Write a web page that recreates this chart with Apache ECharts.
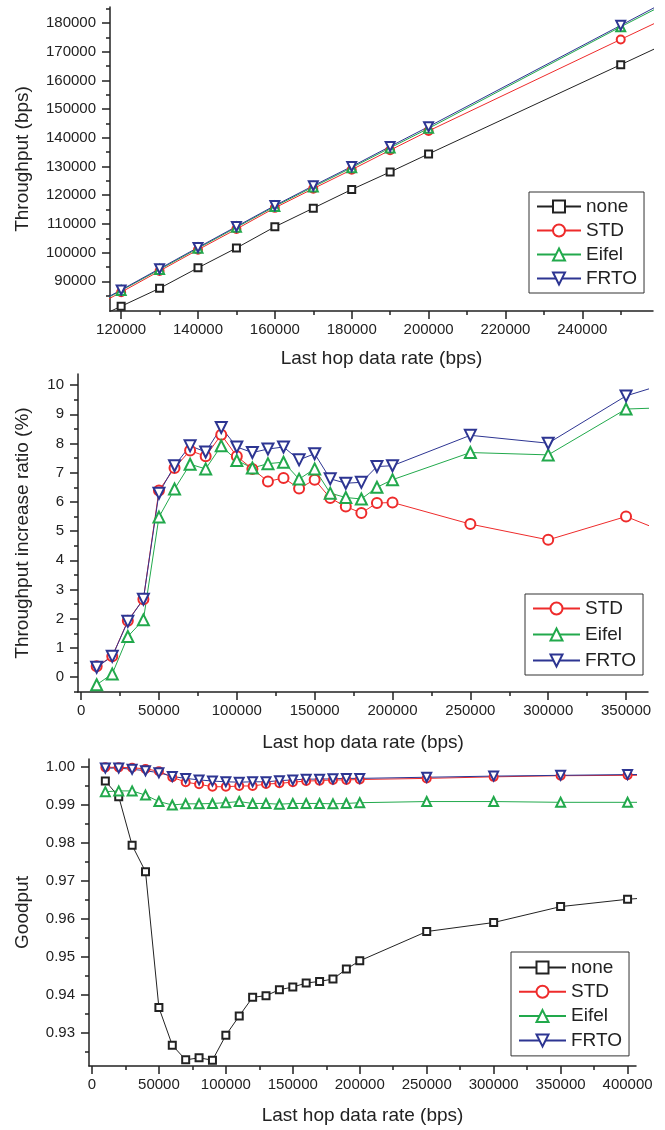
<!DOCTYPE html>
<html>
<head>
<meta charset="utf-8">
<script src="https://cdn.jsdelivr.net/npm/echarts@6/dist/echarts.min.js"></script>
<style>
html,body{margin:0;padding:0;background:#fff;}
#chart{width:665px;height:1130px;}
</style>
</head>
<body>
<div id="chart"></div>
<script>
// ---------- Panel 1: Throughput (bps) ----------
// first and last rates lie just outside the visible axis range (their lines run into the frame edge)
const rate1 = [110000, 120000, 130000, 140000, 150000, 160000, 170000, 180000, 190000, 200000, 250000, 300000];
const none1  = [75000, 81300, 87550, 94700, 101600, 109000, 115500, 122000, 128100, 134400, 165500, 196700];
const std1   = [79000, 86200, 93600, 101000, 108200, 115600, 122300, 128900, 135700, 142400, 174300, 206000];
const eifel1 = [79500, 86800, 94100, 101500, 108800, 116100, 122900, 129600, 136500, 143300, 178700, 213000];
const frto1  = [79700, 87000, 94400, 101800, 109100, 116400, 123300, 130000, 137000, 143900, 179200, 214500];
const xMajor1 = [120000, 140000, 160000, 180000, 200000, 220000, 240000];
const xMinor1 = [130000, 150000, 170000, 190000, 210000, 230000, 250000];
const yMajor1 = [90000, 100000, 110000, 120000, 130000, 140000, 150000, 160000, 170000, 180000];
const yMinor1 = [85000, 95000, 105000, 115000, 125000, 135000, 145000, 155000, 165000, 175000, 185000];

// ---------- Panel 2: Throughput increase ratio (%) ----------
const rate2 = [10000, 20000, 30000, 40000, 50000, 60000, 70000, 80000, 90000, 100000, 110000, 120000, 130000, 140000, 150000, 160000, 170000, 180000, 190000, 200000, 250000, 300000, 350000, 400000];
const std2   = [0.37, 0.71, 1.93, 2.67, 6.39, 7.16, 7.76, 7.56, 8.30, 7.56, 7.13, 6.70, 6.82, 6.46, 6.76, 6.13, 5.84, 5.62, 5.96, 5.98, 5.24, 4.70, 5.50, 4.43];
const eifel2 = [-0.26, 0.11, 1.39, 1.96, 5.48, 6.44, 7.29, 7.13, 7.92, 7.42, 7.16, 7.31, 7.36, 6.78, 7.13, 6.30, 6.15, 6.10, 6.50, 6.76, 7.69, 7.61, 9.18, 9.27];
const frto2  = [0.34, 0.71, 1.91, 2.67, 6.30, 7.24, 7.92, 7.71, 8.55, 7.88, 7.69, 7.81, 7.88, 7.44, 7.65, 6.79, 6.64, 6.67, 7.21, 7.24, 8.28, 8.01, 9.63, 10.45];
const xMajor2 = [0, 50000, 100000, 150000, 200000, 250000, 300000, 350000];
const xMinor2 = [25000, 75000, 125000, 175000, 225000, 275000, 325000];
const yMajor2 = [0, 1, 2, 3, 4, 5, 6, 7, 8, 9, 10];
const yMinor2 = [-0.5, 0.5, 1.5, 2.5, 3.5, 4.5, 5.5, 6.5, 7.5, 8.5, 9.5];

// ---------- Panel 3: Goodput ----------
const rate3 = [10000, 20000, 30000, 40000, 50000, 60000, 70000, 80000, 90000, 100000, 110000, 120000, 130000, 140000, 150000, 160000, 170000, 180000, 190000, 200000, 250000, 300000, 350000, 400000, 450000];
const none3  = [0.99632, 0.99219, 0.97939, 0.97245, 0.93667, 0.92677, 0.92292, 0.92345, 0.92283, 0.92940, 0.93447, 0.93937, 0.93981, 0.94138, 0.94208, 0.94313, 0.94357, 0.94418, 0.94681, 0.94899, 0.95669, 0.95906, 0.96325, 0.96518, 0.9665];
const std3   = [0.9999, 0.9999, 0.9998, 0.9995, 0.9989, 0.9973, 0.9960, 0.99545, 0.9948, 0.9948, 0.9950, 0.9950, 0.9955, 0.9957, 0.9960, 0.9963, 0.9964, 0.9966, 0.9966, 0.9967, 0.9970, 0.9974, 0.9977, 0.9978, 0.9979];
const eifel3 = [0.9935, 0.9937, 0.9937, 0.9926, 0.9909, 0.9900, 0.9903, 0.9903, 0.9904, 0.9906, 0.9909, 0.9904, 0.9904, 0.9902, 0.9904, 0.9904, 0.9904, 0.9903, 0.9904, 0.9906, 0.9909, 0.9909, 0.9907, 0.9907, 0.9907];
const frto3  = [0.9997, 0.9997, 0.9994, 0.9990, 0.9985, 0.9975, 0.9970, 0.9966, 0.9963, 0.9961, 0.9960, 0.9961, 0.9961, 0.9964, 0.9966, 0.9968, 0.9968, 0.9969, 0.9970, 0.9970, 0.9973, 0.9976, 0.9978, 0.9980, 0.9981];
const xMajor3 = [0, 50000, 100000, 150000, 200000, 250000, 300000, 350000, 400000];
const xMinor3 = [25000, 75000, 125000, 175000, 225000, 275000, 325000, 375000];
const yMajor3 = [0.93, 0.94, 0.95, 0.96, 0.97, 0.98, 0.99, 1.00];
const yMinor3 = [0.925, 0.935, 0.945, 0.955, 0.965, 0.975, 0.985, 0.995];

const seriesNames = ['none', 'STD', 'Eifel', 'FRTO'];
const xTitle = 'Last hop data rate (bps)';

// ---------- styling ----------
const FONT = 'Liberation Sans, Arial, sans-serif';
const AX = '#222';
const COLORS = {none: '#222222', STD: '#ee2b2b', Eifel: '#22a94c', FRTO: '#2d3592'};
const SYMBOLS = {
  none:  {symbol: 'emptyRect', rotate: 0},
  STD:   {symbol: 'emptyCircle', rotate: 0},
  Eifel: {symbol: 'emptyTriangle', rotate: 0},
  FRTO:  {symbol: 'emptyTriangle', rotate: 180}
};
const SIZES = [
  {none: 7, STD: 8, Eifel: 9, FRTO: 9},
  {none: 8, STD: 10, Eifel: 11, FRTO: 11},
  {none: 7, STD: 8, Eifel: 9, FRTO: 9}
];

const grids = [
  {left: 110, right: 12, top: 7, height: 304},
  {left: 78, right: 17, top: 374, height: 318},
  {left: 89, right: 29, top: 759, height: 307}
];

function mainAxis(gridIndex, isX, o) {
  return {
    type: 'value', gridIndex: gridIndex, min: o.min, max: o.max,
    position: isX ? 'bottom' : 'left',
    axisLine: {show: true, onZero: false, lineStyle: {color: AX, width: 1.5}},
    axisTick: {show: true, inside: false, length: 8, customValues: o.major, lineStyle: {color: AX, width: 1.5}},
    axisLabel: {show: true, customValues: o.major, margin: o.margin, fontSize: 15, color: AX, fontFamily: FONT,
                formatter: o.fmt || (v => String(v))},
    splitLine: {show: false},
    name: o.name, nameLocation: 'middle', nameGap: o.nameGap,
    nameTextStyle: {fontSize: 19, color: AX, fontFamily: FONT}
  };
}
function minorAxis(gridIndex, isX, o) {
  return {
    type: 'value', gridIndex: gridIndex, min: o.min, max: o.max,
    position: isX ? 'bottom' : 'left',
    axisLine: {show: false, onZero: false},
    axisTick: {show: true, inside: false, length: 4, customValues: o.minor, lineStyle: {color: AX, width: 1.5}},
    axisLabel: {show: false},
    splitLine: {show: false}
  };
}

const xAx = [
  {min: 117100, max: 258400, major: xMajor1, minor: xMinor1, margin: 11, name: xTitle, nameGap: 38},
  {min: -2000, max: 364100, major: xMajor2, minor: xMinor2, margin: 11, name: xTitle, nameGap: 41},
  {min: -2200, max: 406300, major: xMajor3, minor: xMinor3, margin: 11, name: xTitle, nameGap: 40}
];
const yAx = [
  {min: 79650, max: 185600, major: yMajor1, minor: yMinor1, margin: 14, name: 'Throughput (bps)', nameGap: 78},
  {min: -0.51, max: 10.38, major: yMajor2, minor: yMinor2, margin: 14, name: 'Throughput increase ratio (%)', nameGap: 46},
  {min: 0.9213, max: 1.0021, major: yMajor3, minor: yMinor3, margin: 14, name: 'Goodput', nameGap: 57, fmt: v => v.toFixed(2)}
];

const xAxis = [], yAxis = [];
for (let i = 0; i < 3; i++) {
  xAxis.push(mainAxis(i, true, xAx[i]));
  yAxis.push(mainAxis(i, false, yAx[i]));
}
for (let i = 0; i < 3; i++) {
  xAxis.push(minorAxis(i, true, xAx[i]));
  yAxis.push(minorAxis(i, false, yAx[i]));
}

function mkSeries(name, xs, ys, idx) {
  return {
    type: 'line', name: name, xAxisIndex: idx, yAxisIndex: idx,
    data: xs.map((x, k) => [x, ys[k]]),
    clip: true,
    symbol: SYMBOLS[name].symbol, symbolRotate: SYMBOLS[name].rotate, symbolSize: SIZES[idx][name],
    showAllSymbol: true,
    color: COLORS[name],
    lineStyle: {color: COLORS[name], width: 1},
    itemStyle: {color: COLORS[name], borderColor: COLORS[name], borderWidth: 1},
    emphasis: {disabled: true},
    animation: false
  };
}

const series = [
  mkSeries('none', rate1, none1, 0),
  mkSeries('STD', rate1, std1, 0),
  mkSeries('Eifel', rate1, eifel1, 0),
  mkSeries('FRTO', rate1, frto1, 0),
  mkSeries('STD', rate2, std2, 1),
  mkSeries('Eifel', rate2, eifel2, 1),
  mkSeries('FRTO', rate2, frto2, 1),
  mkSeries('none', rate3, none3, 2),
  mkSeries('STD', rate3, std3, 2),
  mkSeries('Eifel', rate3, eifel3, 2),
  mkSeries('FRTO', rate3, frto3, 2)
];

function mkLegend(names, left, top, gap, itemWidth, padTop) {
  return {
    orient: 'vertical', left: left, top: top, data: names,
    itemWidth: itemWidth, itemHeight: 15, itemGap: gap,
    padding: [padTop, 7, padTop, 7],
    borderColor: '#333', borderWidth: 1, backgroundColor: '#fff',
    selectedMode: false,
    textStyle: {fontSize: 19, color: '#222', fontFamily: FONT, padding: [0, 0, 0, 0]}
  };
}

const chart = echarts.init(document.getElementById('chart'), null, {renderer: 'canvas'});
chart.setOption({
  backgroundColor: '#fff',
  animation: false,
  grid: grids,
  xAxis: xAxis,
  yAxis: yAxis,
  legend: [
    mkLegend(seriesNames, 529, 192, 5, 44, 5),
    mkLegend(seriesNames.slice(1), 525, 594, 7, 47, 5),
    mkLegend(seriesNames, 511, 952, 5.3, 47, 6)
  ],
  series: series
});
</script>
</body>
</html>
